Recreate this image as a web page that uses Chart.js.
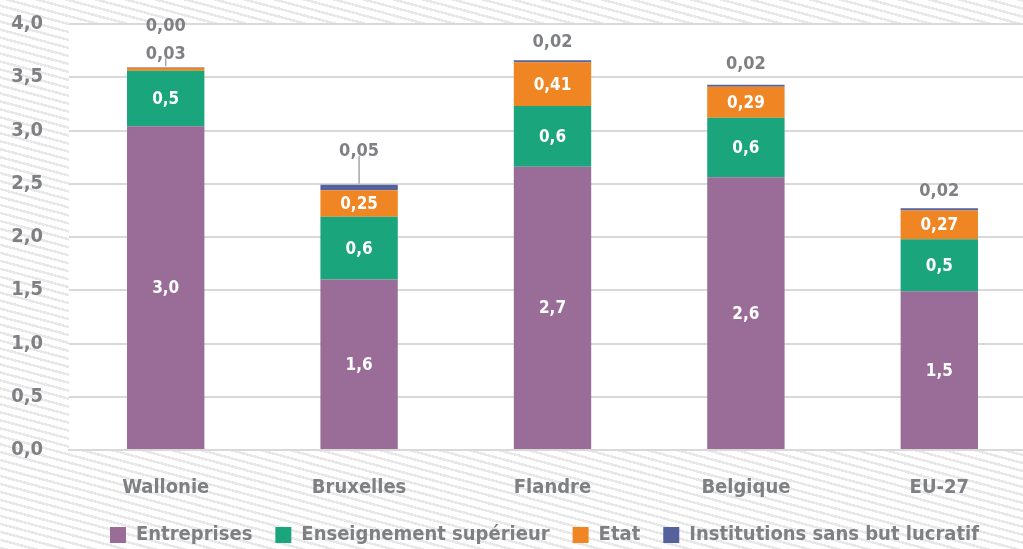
<!DOCTYPE html>
<html lang="fr">
<head>
    <meta charset="UTF-8">
    <title>R&D par secteur</title>
    <script src="https://cdn.jsdelivr.net/npm/chart.js"></script>
    <style>
        html, body{
            margin: 0;
            padding: 0;
            overflow: hidden;
        }
        body{
            width: 1023px;
            height: 549px;
            background: repeating-linear-gradient(15deg, #e8e8e8 0px, #e8e8e8 2.5px, #ffffff 2.5px, #ffffff 7.7px);
        }
        #box{
            position: absolute;
            left: 0;
            top: 0;
        }
    </style>
</head>
<body>

<div id="box">
    <canvas id="rdChart" width="1036" height="549"></canvas>
</div>

<script>
    const regions = ['Wallonie', 'Bruxelles', 'Flandre', 'Belgique', 'EU-27'];
    const seriesNames = ['Entreprises', 'Enseignement supérieur', 'Etat', 'Institutions sans but lucratif'];
    const entreprises = [3.04, 1.60, 2.66, 2.56, 1.49];
    const enseignement = [0.52, 0.59, 0.57, 0.56, 0.49];
    const etat = [0.03, 0.25, 0.41, 0.29, 0.27];
    const institutions = [0.004, 0.05, 0.02, 0.02, 0.02];
    const yTicks = [0, 0.5, 1, 1.5, 2, 2.5, 3, 3.5, 4];
    const decimals = [1, 1, 2, 2];

    const colors = ['#996d98', '#1ba57c', '#f08523', '#56629b'];
    const grey = '#7f8084';
    const FONT = '"Liberation Sans Narrow", "DejaVu Sans Condensed", "Roboto Condensed", "Arial Narrow", sans-serif';

    function fmt(v, d) {
        return v.toFixed(d).replace('.', ',');
    }

    // white plot background, the stripes stay outside
    const plotBg = {
        id: 'plotBg',
        beforeDraw(chart) {
            const a = chart.chartArea;
            const ctx = chart.ctx;
            ctx.save();
            ctx.fillStyle = '#ffffff';
            ctx.fillRect(a.left, a.top, a.right - a.left, a.bottom - a.top);
            ctx.restore();
        }
    };

    // fixed legend band height, nudged a bit to the left
    const legendFix = {
        id: 'legendFix',
        afterInit(chart) {
            const lg = chart.legend;
            const fit = lg.fit.bind(lg);
            lg.fit = function () {
                fit();
                this.height = 47;
            };
        },
        afterLayout(chart) {
            chart.legend.left -= 8;
            chart.legend.right -= 8;
        }
    };

    const valueLabels = {
        id: 'valueLabels',
        afterDatasetsDraw(chart, args, opts) {
            const ctx = chart.ctx;
            const last = chart.data.datasets.length - 1;
            ctx.save();
            ctx.textAlign = 'center';
            ctx.textBaseline = 'middle';
            chart.data.labels.forEach((cat, i) => {
                const outside = [];
                chart.data.datasets.forEach((ds, d) => {
                    const bar = chart.getDatasetMeta(d).data[i];
                    const v = ds.data[i];
                    const txt = fmt(v, decimals[d]);
                    if (v >= 0.1) {
                        ctx.fillStyle = '#ffffff';
                        ctx.font = 'bold 17px ' + FONT;
                        ctx.fillText(txt, bar.x, (bar.y + bar.base) / 2 + 1);
                    } else {
                        outside.push(txt);
                    }
                });
                const topBar = chart.getDatasetMeta(last).data[i];
                let y = topBar.y - opts.gap - opts.lift[i];
                if (opts.leader[i]) {
                    ctx.strokeStyle = '#a6a6a6';
                    ctx.lineWidth = 1.5;
                    ctx.beginPath();
                    ctx.moveTo(topBar.x, topBar.y - 1);
                    ctx.lineTo(topBar.x, y + 4);
                    ctx.stroke();
                }
                ctx.fillStyle = grey;
                ctx.font = 'bold 18px ' + FONT;
                outside.forEach(txt => {
                    ctx.fillText(txt, topBar.x, y);
                    y -= 28;
                });
            });
            ctx.restore();
        }
    };

    const ctx = document.getElementById('rdChart').getContext('2d');
    new Chart(ctx, {
        type: 'bar',
        data: {
            labels: regions,
            datasets: [entreprises, enseignement, etat, institutions].map((vals, k) => ({
                label: seriesNames[k],
                data: vals,
                backgroundColor: colors[k],
                borderWidth: 0,
                barPercentage: 0.4,
                categoryPercentage: 1
            }))
        },
        options: {
            responsive: false,
            animation: false,
            layout: { padding: { top: 24, left: 0, right: 0, bottom: 0 } },
            scales: {
                x: {
                    stacked: true,
                    grid: { display: false },
                    border: { color: '#d9d9d9', width: 2 },
                    ticks: {
                        color: grey,
                        padding: 18,
                        font: { family: FONT, size: 20, weight: 'bold' }
                    },
                    afterFit: s => { s.height = 52; }
                },
                y: {
                    stacked: true,
                    min: 0,
                    max: 4,
                    afterBuildTicks: s => { s.ticks = yTicks.map(v => ({ value: v })); },
                    grid: { color: '#d9d9d9', lineWidth: 2, drawTicks: false },
                    border: { display: false },
                    ticks: {
                        color: grey,
                        padding: 26,
                        font: { family: FONT, size: 20, weight: 'bold' },
                        callback: v => fmt(v, 1)
                    },
                    afterFit: s => {
                        s.width = 69;
                        s.paddingTop = 0;
                        s.paddingBottom = 0;
                    }
                }
            },
            plugins: {
                legend: {
                    position: 'bottom',
                    fullSize: false,
                    labels: {
                        color: grey,
                        boxWidth: 16,
                        boxHeight: 16,
                        padding: 23,
                        font: { family: FONT, size: 20, weight: 'bold' }
                    }
                },
                tooltip: { enabled: false },
                valueLabels: {
                    gap: 18,
                    lift: [-5, 15, 0, 2, -1],
                    leader: [true, true, false, false, false]
                }
            }
        },
        plugins: [plotBg, legendFix, valueLabels]
    });
</script>
</body>
</html>
